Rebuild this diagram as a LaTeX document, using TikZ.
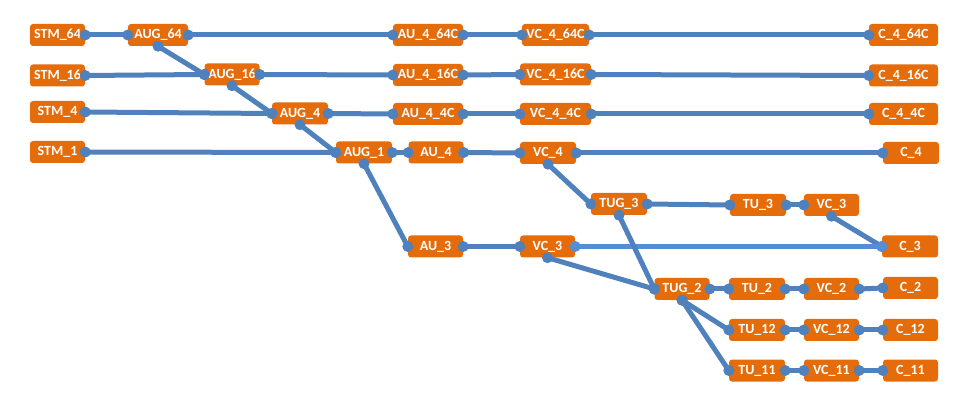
\documentclass[tikz,border=0pt]{standalone}
\usepackage{fontspec}
\setmainfont{Carlito}
\definecolor{boxor}{RGB}{228,108,10}
\definecolor{linkbl}{RGB}{79,129,189}
\definecolor{linklt}{RGB}{85,142,213}
% connector with a dot at each end
\newcommand\conn[3][linkbl]{\draw[link,#1] (#2)--(#3); \fill[#1] (#2) circle(5.5) (#3) circle(5.5);}
\begin{document}
\begin{tikzpicture}[x=1pt, y=-1pt, line cap=round, font=\bfseries\fontsize{14}{14}\selectfont,
	unit/.style={fill=boxor, text=white, rounded corners=3pt, minimum width=55pt, minimum height=22pt, inner sep=0pt},
	link/.style={line width=5pt}]
		\useasboundingbox (0,0) rectangle (962,414);
		% rows of the 4 containers
		\node[unit] (s64) at (57.5,35) {STM\_64};
		\node[unit, minimum width=60pt] (g64) at (158,35) {AUG\_64};
		\node[unit, minimum width=70pt] (a64) at (428,35) {AU\_4\_64C};
		\node[unit, minimum width=67pt] (v64) at (555.5,35) {VC\_4\_64C};
		\node[unit, minimum width=69pt] (c64) at (903.5,35) {C\_4\_64C};
		\node[unit] (s16) at (57.5,75.5) {STM\_16};
		\node[unit] (g16) at (232,74.5) {AUG\_16};
		\node[unit, minimum width=70pt] (a16) at (428,75) {AU\_4\_16C};
		\node[unit, minimum width=71pt] (v16) at (555.5,74.5) {VC\_4\_16C};
		\node[unit, minimum width=69pt] (c16) at (903.5,75.5) {C\_4\_16C};
		\node[unit] (s4) at (57.5,112) {STM\_4};
		\node[unit, minimum width=56pt] (g4) at (300,113.5) {AUG\_4};
		\node[unit, minimum width=70pt] (a4c) at (428,114) {AU\_4\_4C};
		\node[unit, minimum width=71pt] (v4c) at (555.5,114) {VC\_4\_4C};
		\node[unit, minimum width=69pt] (c4c) at (903.5,114) {C\_4\_4C};
		\node[unit] (s1) at (57.5,152) {STM\_1};
		\node[unit, minimum width=56pt] (g1) at (364,152.5) {AUG\_1};
		\node[unit] (a4) at (436,152.5) {AU\_4};
		\node[unit, minimum width=56pt] (v4) at (548,153) {VC\_4};
		\node[unit, minimum width=56pt] (c4) at (911,153) {C\_4};
		% lower orders
		\node[unit, minimum width=56pt] (tug3) at (619,204) {TUG\_3};
		\node[unit, minimum width=56pt] (tu3) at (758,205) {TU\_3};
		\node[unit] (vcu3) at (831.5,205) {VC\_3};
		\node[unit] (a3) at (435.5,246.5) {AU\_3};
		\node[unit] (v3) at (547.5,246.5) {VC\_3};
		\node[unit, minimum width=56pt] (c3) at (910,246.5) {C\_3};
		\node[unit] (tug2) at (682,289) {TUG\_2};
		\node[unit, minimum width=56pt] (tu2) at (757,289) {TU\_2};
		\node[unit] (vc2) at (831.5,289) {VC\_2};
		\node[unit] (c2) at (910.5,288) {C\_2};
		\node[unit, minimum width=56pt] (tu12) at (757,330) {TU\_12};
		\node[unit] (vc12) at (831.5,330) {VC\_12};
		\node[unit] (c12) at (910.5,330) {C\_12};
		\node[unit, minimum width=56pt] (tu11) at (757,370.5) {TU\_11};
		\node[unit] (vc11) at (831.5,370.5) {VC\_11};
		\node[unit] (c11) at (910.5,370.5) {C\_11};
		
		\conn{s64.east}{g64.west} \conn{g64.east}{a64.west} \conn{a64.east}{v64.west} \conn{v64.east}{c64.west}
		\conn{g64.south}{g16.west}
		\conn{s16.east}{g16.west} \conn{g16.east}{a16.west} \conn{a16.east}{v16.west} \conn{v16.east}{c16.west}
		\conn{g16.south}{g4.west}
		\conn{s4.east}{g4.west} \conn{g4.east}{a4c.west} \conn{a4c.east}{v4c.west} \conn{v4c.east}{c4c.west}
		\conn{g4.south}{g1.west}
		\conn{s1.east}{g1.west} \conn{g1.east}{a4.west} \conn{a4.east}{v4.west} \conn{v4.east}{c4.west}
		\conn{v4.south}{tug3.west} \conn{tug3.east}{tu3.west} \conn{tu3.east}{vcu3.west} \conn{vcu3.south}{c3.west}
		\conn{g1.south}{a3.west} \conn{a3.east}{v3.west} \conn[linklt]{v3.east}{c3.west}
		\conn{v3.south}{tug2.west} \conn{tug3.south}{tug2.west}
		\conn{tug2.east}{tu2.west} \conn{tu2.east}{vc2.west} \conn{vc2.east}{c2.west}
		\conn{tug2.south}{tu12.west} \conn{tu12.east}{vc12.west} \conn{vc12.east}{c12.west}
		\conn{tug2.south}{tu11.west} \conn{tu11.east}{vc11.west} \conn{vc11.east}{c11.west}
		
\end{tikzpicture}
\end{document}
